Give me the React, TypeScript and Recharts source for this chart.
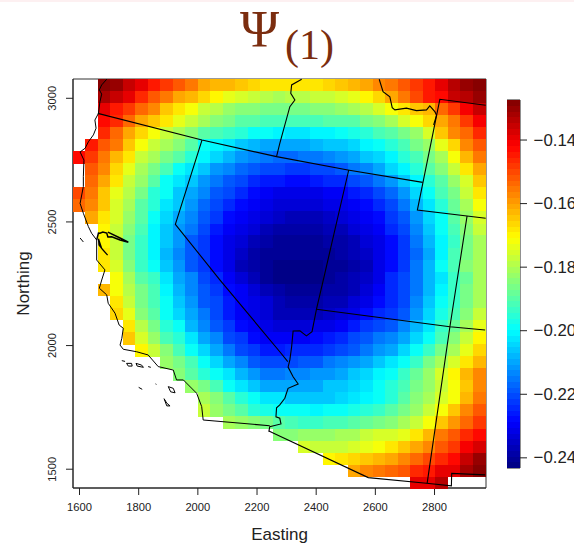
import { ScatterChart, Scatter, XAxis, YAxis, ReferenceArea } from 'recharts';

const _ = null;

// grid centres of the image cells
const eastings = [
    1599, 1641, 1684, 1726, 1768, 1810, 1853, 1895, 1937, 1979, 2022, 2064, 2106, 2149, 2191, 2233, 2275,
    2318, 2360, 2402, 2444, 2487, 2529, 2571, 2613, 2656, 2698, 2740, 2782, 2825, 2867, 2909, 2951,
];
const northings = [
    3054, 3005, 2956, 2907, 2859, 2810, 2761, 2712, 2663, 2615, 2566, 2517, 2468, 2420, 2371, 2322, 2273,
    2224, 2176, 2127, 2078, 2029, 1981, 1932, 1883, 1834, 1785, 1737, 1688, 1639, 1590, 1541, 1493, 1444,
];

// Psi(1) in thousandths, one row per northing
const psiRows: (number | null)[][] = [
    [_,_,-128,-131,-135,-140,-145,-149,-152,-156,-160,-162,-163,-165,-167,-169,-169,-169,-169,-169,-166,-164,-162,-160,-158,-156,-152,-149,-145,-140,-134,-130,-127],
    [_,_,-132,-135,-140,-147,-152,-156,-160,-163,-167,-170,-173,-175,-178,-179,-180,-179,-179,-178,-177,-175,-173,-170,-166,-160,-156,-150,-145,-142,-136,-134,-130],
    [_,_,-140,-144,-149,-154,-158,-164,-168,-172,-177,-179,-182,-184,-185,-187,-187,-187,-186,-185,-184,-183,-181,-179,-175,-171,-169,-164,-162,-154,-149,-141,-135],
    [_,_,-143,-147,-154,-160,-165,-169,-174,-178,-181,-185,-187,-189,-190,-192,-192,-192,-192,-191,-190,-190,-189,-187,-185,-181,-176,-171,-166,-160,-155,-149,-141],
    [_,_,-147,-154,-160,-166,-172,-178,-181,-185,-189,-192,-194,-196,-198,-199,-201,-203,-203,-200,-200,-198,-197,-195,-192,-189,-186,-182,-176,-164,-158,-153,-147],
    [_,-145,-152,-156,-164,-171,-177,-181,-185,-189,-198,-201,-203,-206,-208,-209,-210,-209,-209,-208,-207,-206,-204,-200,-198,-195,-191,-187,-182,-174,-166,-158,-152],
    [-143,-149,-156,-162,-169,-177,-181,-187,-190,-195,-201,-205,-208,-211,-214,-216,-217,-217,-216,-215,-213,-211,-209,-207,-204,-200,-195,-192,-186,-180,-172,-163,-156],
    [_,-152,-158,-166,-174,-180,-187,-192,-198,-203,-207,-211,-214,-217,-219,-221,-221,-222,-222,-221,-220,-218,-215,-213,-210,-205,-200,-196,-190,-184,-177,-169,-161],
    [_,-153,-160,-169,-178,-183,-190,-198,-203,-206,-211,-215,-218,-221,-224,-226,-226,-227,-227,-226,-225,-224,-221,-219,-216,-212,-207,-201,-195,-189,-182,-175,-165],
    [-150,-156,-164,-174,-179,-187,-195,-199,-206,-210,-214,-218,-221,-224,-228,-230,-231,-232,-232,-231,-230,-229,-226,-224,-221,-217,-212,-205,-199,-192,-186,-178,-169],
    [-154,-158,-165,-175,-181,-189,-196,-202,-207,-212,-217,-220,-224,-228,-230,-232,-233,-234,-234,-233,-232,-232,-230,-227,-224,-220,-215,-208,-202,-195,-188,-180,-172],
    [_,-160,-168,-176,-183,-190,-198,-204,-209,-214,-219,-223,-227,-230,-232,-234,-235,-236,-236,-236,-235,-234,-232,-230,-227,-223,-218,-211,-204,-198,-190,-183,-175],
    [_,_,-170,-177,-185,-192,-200,-206,-211,-216,-221,-226,-229,-232,-234,-236,-238,-238,-238,-238,-237,-236,-234,-232,-229,-225,-220,-214,-207,-199,-192,-185,-178],
    [_,_,-170,-177,-187,-194,-201,-207,-212,-218,-222,-227,-231,-234,-236,-239,-240,-240,-240,-240,-239,-238,-236,-234,-231,-227,-222,-216,-208,-200,-193,-186,-180],
    [_,_,-169,-177,-187,-194,-201,-208,-213,-219,-223,-228,-232,-235,-238,-240,-241,-241,-241,-241,-240,-239,-237,-235,-232,-228,-223,-217,-209,-200,-192,-186,-181],
    [_,_,-168,-176,-185,-194,-198,-207,-212,-218,-223,-228,-232,-236,-239,-241,-242,-242,-242,-242,-241,-240,-238,-236,-232,-228,-222,-216,-208,-199,-191,-185,-180],
    [_,_,_,-172,-181,-189,-194,-202,-210,-214,-220,-224,-229,-233,-236,-240,-242,-242,-242,-242,-241,-239,-237,-235,-232,-224,-220,-215,-208,-202,-194,-188,-181],
    [_,_,-163,-171,-179,-187,-192,-201,-208,-214,-218,-222,-227,-230,-233,-236,-239,-240,-240,-240,-239,-238,-236,-233,-230,-225,-221,-215,-208,-200,-194,-187,-180],
    [_,_,_,-169,-178,-187,-192,-199,-206,-212,-218,-221,-226,-229,-232,-234,-237,-238,-238,-238,-237,-236,-234,-231,-228,-224,-220,-214,-207,-199,-193,-186,-180],
    [_,_,_,-166,-174,-185,-190,-198,-204,-210,-216,-221,-226,-229,-231,-233,-236,-236,-236,-236,-235,-233,-231,-228,-225,-222,-218,-212,-205,-197,-191,-184,-178],
    [_,_,_,_,-169,-179,-187,-195,-199,-208,-213,-218,-222,-227,-229,-231,-233,-233,-233,-232,-231,-229,-226,-223,-221,-218,-214,-208,-202,-194,-188,-180,-173],
    [_,_,_,_,-165,-176,-182,-192,-196,-203,-210,-214,-220,-223,-227,-229,-230,-229,-229,-228,-226,-224,-221,-219,-216,-213,-209,-204,-198,-191,-184,-177,-170],
    [_,_,_,_,_,-170,-177,-185,-192,-198,-204,-210,-216,-220,-223,-226,-226,-225,-225,-224,-222,-220,-218,-215,-212,-209,-204,-199,-193,-186,-180,-173,-167],
    [_,_,_,_,_,_,_,-182,-187,-192,-199,-204,-209,-213,-218,-220,-221,-220,-219,-218,-216,-214,-212,-209,-206,-203,-199,-193,-187,-181,-175,-168,-163],
    [_,_,_,_,_,_,_,_,-185,-189,-195,-199,-203,-208,-212,-215,-216,-214,-213,-212,-211,-209,-207,-204,-201,-198,-193,-188,-183,-176,-170,-163,-158],
    [_,_,_,_,_,_,_,_,_,-183,-187,-192,-198,-202,-206,-209,-209,-209,-209,-209,-207,-206,-204,-202,-199,-196,-192,-187,-182,-177,-171,-164,-158],
    [_,_,_,_,_,_,_,_,_,_,-181,-185,-190,-196,-199,-202,-203,-206,-207,-207,-206,-205,-203,-201,-199,-195,-190,-185,-181,-176,-171,-162,-156],
    [_,_,_,_,_,_,_,_,_,_,-178,-182,-187,-190,-195,-197,-199,-199,-199,-201,-199,-198,-197,-196,-194,-190,-187,-182,-177,-171,-164,-158,-152],
    [_,_,_,_,_,_,_,_,_,_,_,_,-181,-183,-185,-187,-189,-192,-193,-193,-192,-191,-190,-188,-186,-184,-181,-177,-172,-165,-159,-154,-148],
    [_,_,_,_,_,_,_,_,_,_,_,_,_,_,_,_,-184,-184,-183,-183,-182,-181,-180,-178,-176,-175,-174,-169,-162,-156,-152,-146,-142],
    [_,_,_,_,_,_,_,_,_,_,_,_,_,_,_,_,_,_,-175,-178,-178,-177,-176,-174,-171,-169,-165,-161,-157,-152,-149,-141,-137],
    [_,_,_,_,_,_,_,_,_,_,_,_,_,_,_,_,_,_,_,_,-170,-169,-166,-164,-162,-160,-157,-154,-150,-146,-142,-135,-131],
    [_,_,_,_,_,_,_,_,_,_,_,_,_,_,_,_,_,_,_,_,_,_,-160,-158,-156,-154,-151,-147,-145,-140,-139,-132,-127],
    [_,_,_,_,_,_,_,_,_,_,_,_,_,_,_,_,_,_,_,_,_,_,_,_,_,_,_,-140,-140,-134,_,_,_],
];

const xTicks = [1600, 1800, 2000, 2200, 2400, 2600, 2800];
const yTicks = [1500, 2000, 2500, 3000];
const barTicks = [-0.24, -0.22, -0.2, -0.18, -0.16, -0.14];

// map outlines as [easting, northing]
const coast = [[1692,3077],[1675,3054],[1667,3034],[1675,3017],[1669,2986],[1664,2939],[1652,2912],[1656,2879],[1647,2852],[1630,2824],[1619,2798],[1602,2783],[1615,2750],[1613,2683],[1613,2643],[1602,2575],[1613,2535],[1630,2481],[1641,2454],[1658,2427],[1658,2346],[1686,2306],[1675,2265],[1667,2232],[1692,2205],[1697,2171],[1720,2131],[1734,2083],[1748,2070],[1743,2029],[1737,2002],[1748,1985],[1793,1975],[1832,1962],[1866,1915],[1917,1901],[1928,1861],[1951,1861],[1996,1807],[2013,1753],[2018,1699]];
const bayNorth = [[1658,2427],[1664,2455],[1669,2454],[1679,2459],[1692,2455],[1696,2439],[1709,2440],[1737,2427],[1765,2418],[1737,2435],[1696,2459]];
const baySouth = [[1664,2432],[1675,2393],[1695,2366],[1679,2387],[1666,2407],[1664,2432]];
const islands = [
    [[1602,2435],[1613,2419]],
    [[1743,1939],[1754,1936]],
    [[1759,1928],[1776,1928],[1778,1917],[1765,1917],[1759,1928]],
    [[1791,1928],[1810,1921],[1816,1912],[1795,1917],[1791,1928]],
    [[1832,1915],[1841,1912]],
    [[1800,1831],[1812,1823]],
    [[1857,1845],[1860,1843]],
    [[1900,1834],[1917,1827],[1923,1809],[1908,1813],[1900,1834]],
    [[1886,1785],[1895,1767],[1906,1756],[1895,1756],[1886,1785]],
];
const borders = [
    [[1662,2939],[2014,2831],[2266,2764],[2507,2710],[2760,2660]],
    [[2014,2831],[1924,2490],[2075,2265],[2277,1975],[2304,1935]],
    [[2510,2710],[2424,2265],[2401,2147],[2386,2056],[2367,2039],[2345,2060],[2322,2059],[2317,1995],[2311,1942],[2305,1913],[2322,1874],[2339,1845],[2305,1827],[2294,1787],[2277,1760],[2266,1748],[2264,1712],[2277,1706],[2281,1683],[2243,1672],[2240,1652]],
    [[2018,1699],[2243,1676]],
    [[2240,1655],[2576,1466],[2773,1443],[2857,1433],[2858,1483],[2971,1477]],
    [[2401,2147],[2852,2076],[2971,2063]],
    [[2973,2972],[2818,2996],[2761,2660],[2742,2548],[2973,2515]],
    [[2910,2524],[2852,2076],[2775,1443]],
    [[2266,2764],[2277,2818],[2311,2966],[2328,2993],[2314,3020],[2317,3054],[2351,3077]],
    [[2613,3077],[2626,3027],[2649,3006],[2657,2962],[2666,2953],[2705,2960],[2739,2950],[2773,2953],[2784,2969],[2801,2946],[2807,2932],[2797,2892]],
];

const VALUE_MIN = -0.2432;
const VALUE_MAX = -0.1274;
const LEVELS = 64;

function jet(t: number) {
    const level = Math.min(LEVELS - 1, Math.floor(t * LEVELS));
    const s = (level + 0.5) / LEVELS;
    const ch = (c: number) => Math.round(255 * Math.max(0, Math.min(1, 1.5 - Math.abs(4 * s - c))));
    return `rgb(${ch(3)},${ch(2)},${ch(1)})`;
}

const colorOf = (v: number) => jet((v - VALUE_MIN) / (VALUE_MAX - VALUE_MIN));

const cells = psiRows.flatMap((row, r) =>
    row.flatMap((v, c) => (v === null ? [] : [{ x: eastings[c], y: northings[r], v: v / 1000 }])),
);

const barLevels = Array.from({ length: LEVELS }, (_v, i) => ({
    x: 0.5,
    y: VALUE_MIN + ((i + 0.5) * (VALUE_MAX - VALUE_MIN)) / LEVELS,
}));

const toPoints = (line: number[][]) => line.map(([x, y]) => ({ x, y }));

const FONT = '"Liberation Sans", Arial, sans-serif';

function Cell(props: any) {
    const { cx, cy, payload } = props;
    return (
        <rect
            x={cx - 6.5}
            y={cy - 6.3}
            width={13}
            height={12.6}
            fill={colorOf(payload.v)}
            shapeRendering="crispEdges"
        />
    );
}

function BarStep(props: any) {
    const { cx, cy, payload } = props;
    return (
        <rect x={cx - 6.7} y={cy - 3.1} width={13.4} height={6.2} fill={colorOf(payload.y)} shapeRendering="crispEdges" />
    );
}

function NorthTick(props: any) {
    const { x, y, payload } = props;
    const bx = x - 8;
    return (
        <text x={bx} y={y} transform={`rotate(-90 ${bx} ${y})`} textAnchor="middle" fontSize={11.2} fill="#222" fontFamily={FONT}>
            {payload.value}
        </text>
    );
}

function BarTick(props: any) {
    const { y, payload } = props;
    return (
        <text x={26.6} y={y + 5.5} textAnchor="start" fontSize={16.8} fill="#222" fontFamily={FONT}>
            {`\u2212${Math.abs(payload.value).toFixed(2)}`}
        </text>
    );
}

const eastingLabel = () => (
    <text x={279.5} y={540} textAnchor="middle" fontSize={17} fill="#222" fontFamily={FONT}>
        Easting
    </text>
);

const northingLabel = () => (
    <text x={29} y={283.5} transform="rotate(-90 29 283.5)" textAnchor="middle" fontSize={17} fill="#222" fontFamily={FONT}>
        Northing
    </text>
);

const noDot = () => <g />;

export default function App() {
    const outlines = [
        ...borders.map((l) => ({ l, w: 1.1 })),
        { l: coast, w: 1 },
        { l: bayNorth, w: 1.5 },
        { l: baySouth, w: 1.3 },
        ...islands.map((l) => ({ l, w: 1 })),
    ];
    return (
        <div style={{ position: 'absolute', left: 0, top: 0, width: 574, height: 549, overflow: 'hidden', background: '#fff' }}>
            <div style={{ position: 'absolute', left: 0, top: 0, width: 580, height: 2, background: '#fdf0f1' }} />
            <div style={{ position: 'absolute', left: 240, top: 0, fontFamily: '"Liberation Serif", serif', fontSize: 53, color: '#7b2d0f', lineHeight: '58px' }}>Ψ</div>
            <div style={{ position: 'absolute', left: 285, top: 16, fontFamily: '"Liberation Serif", serif', fontSize: 42, color: '#7b2d0f', lineHeight: '58px' }}>(1)</div>

            <div style={{ position: 'absolute', left: 0, top: 0 }}>
                <ScatterChart width={488} height={549} margin={{ top: 79, right: 2, bottom: 0, left: 0 }}>
                    <ReferenceArea x1={1578} x2={2974} y1={1424} y2={3078} fill="none" stroke="#333" strokeWidth={1} ifOverflow="visible" />
                    <XAxis
                        type="number"
                        dataKey="x"
                        domain={[1578, 2974]}
                        ticks={xTicks}
                        height={61}
                        stroke="#222"
                        tickSize={7}
                        tickMargin={8}
                        tick={{ fontSize: 11.2, fill: '#222', fontFamily: FONT }}
                        label={eastingLabel}
                    />
                    <YAxis
                        type="number"
                        dataKey="y"
                        domain={[1424, 3078]}
                        ticks={yTicks}
                        width={73}
                        stroke="#222"
                        tickSize={7}
                        tick={<NorthTick />}
                        label={northingLabel}
                    />
                    <Scatter data={cells} shape={<Cell />} isAnimationActive={false} />
                    {outlines.map(({ l, w }, i) => (
                        <Scatter
                            key={i}
                            data={toPoints(l)}
                            line={{ stroke: '#000', strokeWidth: w, fill: 'none' }}
                            shape={noDot}
                            isAnimationActive={false}
                        />
                    ))}
                </ScatterChart>
            </div>

            <div style={{ position: 'absolute', left: 507, top: 0 }}>
                <ScatterChart width={73} height={549} margin={{ top: 100, right: 0, bottom: 81, left: 0 }}>
                    <XAxis type="number" dataKey="x" domain={[0, 1]} hide />
                    <YAxis
                        type="number"
                        dataKey="y"
                        orientation="right"
                        domain={[VALUE_MIN, VALUE_MAX]}
                        ticks={barTicks}
                        width={60}
                        stroke="#222"
                        tickSize={7}
                        axisLine={false}
                        tick={<BarTick />}
                    />
                    <Scatter data={barLevels} shape={<BarStep />} isAnimationActive={false} />
                    <ReferenceArea x1={0} x2={1} y1={VALUE_MIN} y2={VALUE_MAX} fill="none" stroke="#222" strokeWidth={1} ifOverflow="visible" />
                </ScatterChart>
            </div>
        </div>
    );
}
